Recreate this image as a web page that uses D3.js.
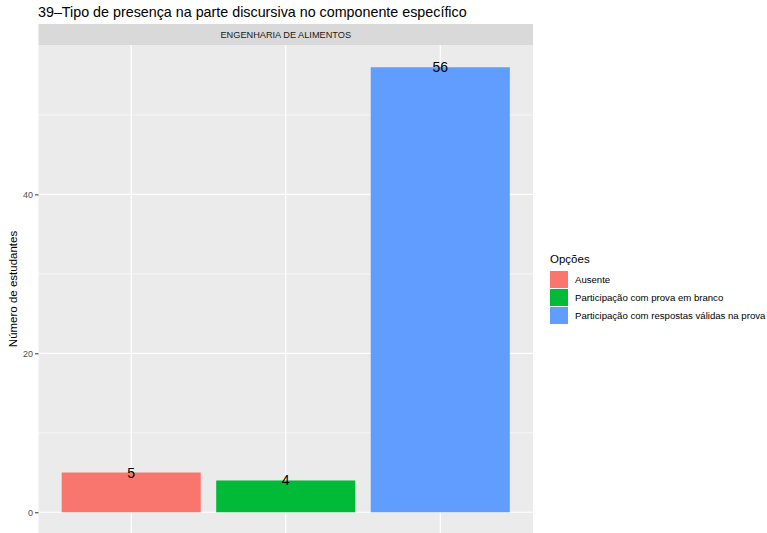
<!DOCTYPE html>
<html><head><meta charset="utf-8">
<script src="https://cdn.jsdelivr.net/npm/d3@7"></script>
<style>body{margin:0;background:#fff;}svg{display:block;font-family:"Liberation Sans",Arial,sans-serif;}</style>
</head><body>
<svg id="c" width="767" height="533"></svg>
<script>
const categories = ["Ausente","Participação com prova em branco","Participação com respostas válidas na prova"];
const values = [5,4,56];
const colors = ["#F8766D","#00BA38","#619CFF"];
const yTicks = [0,20,40];
const yMinor = [10,30,50];
const title = "39–Tipo de presença na parte discursiva no componente específico";
const facet = "ENGENHARIA DE ALIMENTOS";
const yLabel = "Número de estudantes";
const legendTitle = "Opções";

const svg = d3.select("#c");
const pl = 38.5, pr = 533, pt = 45, pb = 534.5;
const x = d3.scaleBand().domain(categories).range([pl, pr]).paddingInner(0.1).paddingOuter(0.15);
const y = d3.scaleLinear().domain([-2.8, 58.8]).range([pb, pt]);

svg.append("text").attr("x", 38).attr("y", 17).attr("font-size", 14.3).attr("fill", "#000").text(title);
svg.append("rect").attr("x", pl).attr("y", 24).attr("width", pr - pl).attr("height", pt - 24).attr("fill", "#d9d9d9");
svg.append("text").attr("x", (pl + pr) / 2).attr("y", 38).attr("text-anchor", "middle").attr("font-size", 9.2).attr("fill", "#1a1a1a").text(facet);
svg.append("rect").attr("x", pl).attr("y", pt).attr("width", pr - pl).attr("height", pb - pt).attr("fill", "#ebebeb");

const g = svg.append("g");
yMinor.forEach(v => g.append("line").attr("x1", pl).attr("x2", pr).attr("y1", y(v)).attr("y2", y(v)).attr("stroke", "#fff").attr("stroke-width", 0.6));
yTicks.forEach(v => g.append("line").attr("x1", pl).attr("x2", pr).attr("y1", y(v)).attr("y2", y(v)).attr("stroke", "#fff").attr("stroke-width", 1.2));
categories.forEach(c => g.append("line").attr("x1", x(c) + x.bandwidth() / 2).attr("x2", x(c) + x.bandwidth() / 2).attr("y1", pt).attr("y2", pb).attr("stroke", "#fff").attr("stroke-width", 1.2));

g.selectAll(".bar").data(categories).enter().append("rect")
  .attr("x", d => x(d)).attr("width", x.bandwidth())
  .attr("y", (d, i) => y(values[i])).attr("height", (d, i) => y(0) - y(values[i]))
  .attr("fill", (d, i) => colors[i]);
g.selectAll(".lab").data(categories).enter().append("text")
  .attr("x", d => x(d) + x.bandwidth() / 2).attr("y", (d, i) => y(values[i]) + 5)
  .attr("text-anchor", "middle").attr("font-size", 14).attr("fill", "#000")
  .text((d, i) => values[i]);

const ax = svg.append("g").attr("transform", `translate(${pl},0)`).call(d3.axisLeft(y).tickValues(yTicks).tickSize(3.5).tickPadding(2));
ax.select(".domain").remove();
ax.selectAll("line").attr("stroke", "#333").attr("stroke-width", 1);
ax.selectAll("text").attr("font-size", 9).attr("fill", "#4d4d4d").attr("font-family", "Liberation Sans, Arial, sans-serif");

svg.append("text").attr("transform", `translate(17,${(pt + 533) / 2}) rotate(-90)`).attr("text-anchor", "middle").attr("font-size", 11.5).attr("fill", "#000").text(yLabel);

const lg = svg.append("g");
lg.append("text").attr("x", 550).attr("y", 263).attr("font-size", 11.5).attr("fill", "#000").text(legendTitle);
categories.forEach((c, i) => {
  lg.append("rect").attr("x", 550).attr("y", 271 + i * 18).attr("width", 18).attr("height", 17).attr("fill", colors[i]);
  lg.append("text").attr("x", 575).attr("y", 283 + i * 18).attr("font-size", 9.6).attr("fill", "#000").text(c);
});
</script>
</body></html>
